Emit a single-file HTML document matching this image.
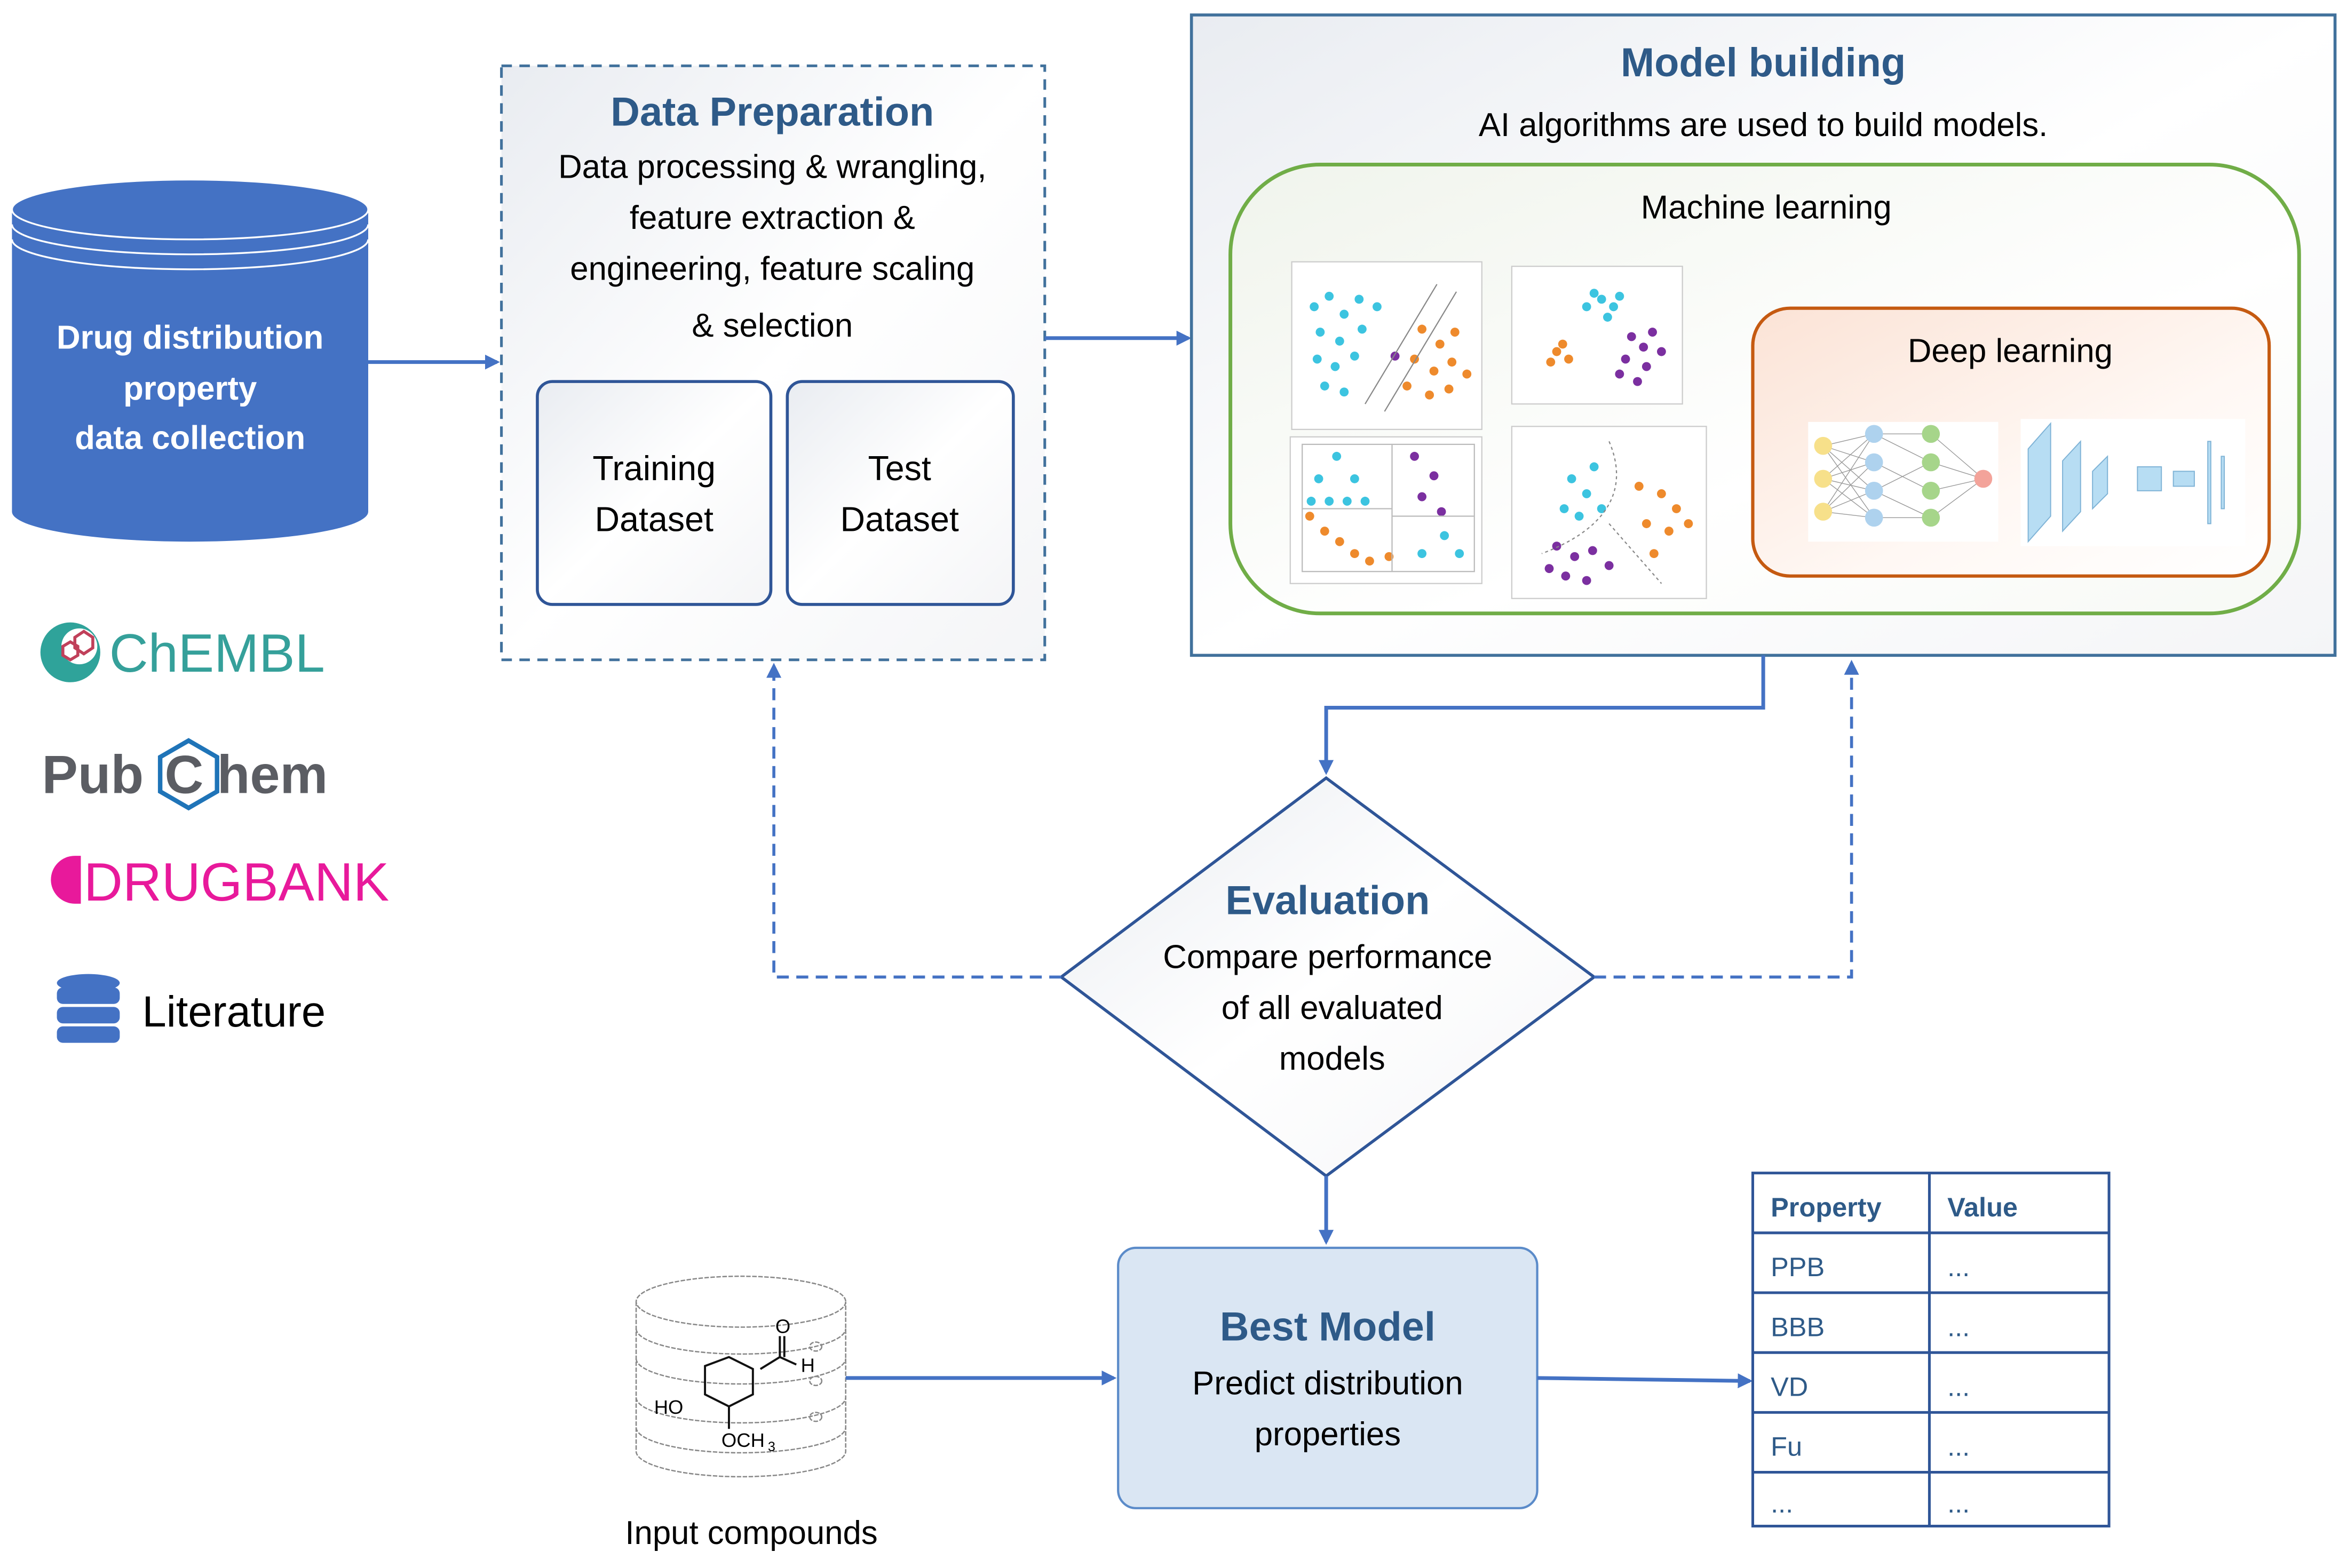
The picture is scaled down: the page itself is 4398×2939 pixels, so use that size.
<!DOCTYPE html>
<html><head><meta charset="utf-8"><style>
html,body{margin:0;padding:0;background:#fff;}
svg{display:block;}
text{font-family:"Liberation Sans",sans-serif;}
</style></head><body>
<svg width="4398" height="2939" viewBox="0 0 1568 1048" preserveAspectRatio="none" xmlns="http://www.w3.org/2000/svg">
<defs>
<marker id="ar" markerWidth="10" markerHeight="10" refX="8" refY="5" orient="auto" markerUnits="userSpaceOnUse"><path d="M0,0 L10,5 L0,10 z" fill="#4472C4"/></marker>
<linearGradient id="gb" x1="0" y1="0" x2="1" y2="1"><stop offset="0" stop-color="#e9ecf1"/><stop offset="0.5" stop-color="#ffffff"/><stop offset="1" stop-color="#f4f5f7"/></linearGradient>
<linearGradient id="go" x1="0" y1="0" x2="1" y2="1"><stop offset="0" stop-color="#fbe3d6"/><stop offset="0.6" stop-color="#fff8f4"/><stop offset="1" stop-color="#ffffff"/></linearGradient>
<linearGradient id="gg" x1="0" y1="0" x2="1" y2="1"><stop offset="0" stop-color="#f0f4ec"/><stop offset="0.6" stop-color="#ffffff"/><stop offset="1" stop-color="#f7f9f5"/></linearGradient>
</defs>

<!-- Source cylinder -->
<path d="M8,140 L8,342 A119,20 0 0 0 246,342 L246,140 Z" fill="#4472C4"/>
<ellipse cx="127" cy="140" rx="119" ry="20" fill="#4472C4" stroke="#ffffff" stroke-width="1.2"/>
<path d="M8,150 A119,20 0 0 0 246,150 M8,160 A119,20 0 0 0 246,160" fill="none" stroke="#ffffff" stroke-width="1.2"/>
<g fill="#fff" font-weight="bold" font-size="22" text-anchor="middle">
<text x="127" y="233">Drug distribution</text>
<text x="127" y="267">property</text>
<text x="127" y="300">data collection</text>
</g>
<line x1="246" y1="242" x2="332" y2="242" stroke="#4472C4" stroke-width="2.5" marker-end="url(#ar)"/>

<!-- logos -->
<circle cx="47" cy="436" r="20" fill="#2FA39A"/>
<circle cx="53" cy="432" r="12" fill="#fff"/>
<path d="M50,426 l6,-4 l6,4 l0,7 l-6,4 l-6,-4z M42,432 l5,-3 l5,3 l0,6 l-5,3 l-5,-3z" fill="none" stroke="#C0405A" stroke-width="2"/>
<text x="73" y="449" font-size="36" fill="#35A09A">ChEMBL</text>
<text x="28" y="530" font-size="36" font-weight="bold" fill="#5b5d63">Pub</text>
<polygon points="126,495 145,506 145,529 126,540 107,529 107,506" fill="none" stroke="#1f74b8" stroke-width="3"/>
<text x="110" y="530" font-size="36" font-weight="bold" fill="#5b5d63">C</text>
<text x="145" y="530" font-size="36" font-weight="bold" fill="#5b5d63">hem</text>
<path d="M50,572 A16,16 0 0 0 50,604 L54,604 L54,572 Z" fill="#E8199B"/>
<text x="56" y="602" font-size="36" fill="#E8199B">DRUGBANK</text>
<g fill="#4472C4">
<ellipse cx="59" cy="657" rx="21" ry="6"/>
<rect x="38" y="660" width="42" height="11" rx="4"/>
<rect x="38" y="673" width="42" height="11" rx="4"/>
<rect x="38" y="686" width="42" height="11" rx="4"/>
</g>
<text x="95" y="686" font-size="29" fill="#000">Literature</text>

<!-- Data preparation -->
<rect x="335" y="44" width="363" height="397" fill="url(#gb)" stroke="#41719C" stroke-width="1.8" stroke-dasharray="7,5"/>
<text x="516" y="84" font-size="27" font-weight="bold" fill="#2E5A88" text-anchor="middle">Data Preparation</text>
<g font-size="22" text-anchor="middle" fill="#000">
<text x="516" y="119">Data processing &amp; wrangling,</text>
<text x="516" y="153">feature extraction &amp;</text>
<text x="516" y="187">engineering, feature scaling</text>
<text x="516" y="225">&amp; selection</text>
</g>
<rect x="359" y="255" width="156" height="149" rx="10" fill="url(#gb)" stroke="#2F5597" stroke-width="2"/>
<rect x="526" y="255" width="151" height="149" rx="10" fill="url(#gb)" stroke="#2F5597" stroke-width="2"/>
<g font-size="23" text-anchor="middle" fill="#000">
<text x="437" y="321">Training</text><text x="437" y="355">Dataset</text>
<text x="601" y="321">Test</text><text x="601" y="355">Dataset</text>
</g>
<line x1="698" y1="226" x2="794" y2="226" stroke="#4472C4" stroke-width="2.5" marker-end="url(#ar)"/>

<!-- Model building -->
<rect x="796" y="10" width="764" height="428" fill="url(#gb)" stroke="#41719C" stroke-width="2"/>
<text x="1178" y="51" font-size="27" font-weight="bold" fill="#2E5A88" text-anchor="middle">Model building</text>
<text x="1178" y="91" font-size="22" text-anchor="middle">AI algorithms are used to build models.</text>
<rect x="822" y="110" width="714" height="300" rx="60" fill="url(#gg)" stroke="#70AD47" stroke-width="2.5"/>
<text x="1180" y="146" font-size="22" text-anchor="middle">Machine learning</text>

<!-- ML charts -->
<g stroke="#ccc" stroke-width="0.8" fill="#fff">
<rect x="863" y="175" width="127" height="112"/>
<rect x="1010" y="178" width="114" height="92"/>
<rect x="862" y="292" width="128" height="98"/>
<rect x="1010" y="285" width="130" height="115"/>
</g>
<g fill="#3cc4e0">
<circle cx="878" cy="205" r="3"/><circle cx="888" cy="198" r="3"/><circle cx="898" cy="210" r="3"/><circle cx="908" cy="200" r="3"/><circle cx="920" cy="205" r="3"/><circle cx="882" cy="222" r="3"/><circle cx="895" cy="228" r="3"/><circle cx="910" cy="220" r="3"/><circle cx="880" cy="240" r="3"/><circle cx="892" cy="245" r="3"/><circle cx="905" cy="238" r="3"/><circle cx="885" cy="258" r="3"/><circle cx="898" cy="262" r="3"/>
<circle cx="1070" cy="200" r="3"/><circle cx="1078" cy="205" r="3"/><circle cx="1065" cy="196" r="3"/><circle cx="1082" cy="198" r="3"/><circle cx="1074" cy="212" r="3"/><circle cx="1060" cy="205" r="3"/>
<circle cx="881" cy="320" r="3"/><circle cx="893" cy="305" r="3"/><circle cx="905" cy="320" r="3"/><circle cx="876" cy="335" r="3"/><circle cx="888" cy="335" r="3"/><circle cx="900" cy="335" r="3"/><circle cx="912" cy="335" r="3"/>
<circle cx="950" cy="370" r="3"/><circle cx="965" cy="358" r="3"/><circle cx="975" cy="370" r="3"/>
<circle cx="1050" cy="320" r="3"/><circle cx="1060" cy="330" r="3"/><circle cx="1045" cy="340" r="3"/><circle cx="1065" cy="312" r="3"/><circle cx="1055" cy="345" r="3"/><circle cx="1070" cy="340" r="3"/>
</g>
<g fill="#ee8a2c">
<circle cx="950" cy="220" r="3"/><circle cx="962" cy="230" r="3"/><circle cx="972" cy="222" r="3"/><circle cx="945" cy="240" r="3"/><circle cx="958" cy="248" r="3"/><circle cx="970" cy="242" r="3"/><circle cx="940" cy="258" r="3"/><circle cx="955" cy="264" r="3"/><circle cx="968" cy="260" r="3"/><circle cx="980" cy="250" r="3"/>
<circle cx="1040" cy="235" r="3"/><circle cx="1048" cy="240" r="3"/><circle cx="1044" cy="230" r="3"/><circle cx="1036" cy="242" r="3"/>
<circle cx="875" cy="345" r="3"/><circle cx="885" cy="355" r="3"/><circle cx="895" cy="362" r="3"/><circle cx="905" cy="370" r="3"/><circle cx="915" cy="375" r="3"/><circle cx="928" cy="372" r="3"/>
<circle cx="1095" cy="325" r="3"/><circle cx="1110" cy="330" r="3"/><circle cx="1120" cy="340" r="3"/><circle cx="1100" cy="350" r="3"/><circle cx="1115" cy="355" r="3"/><circle cx="1128" cy="350" r="3"/><circle cx="1105" cy="370" r="3"/>
</g>
<g fill="#7b2fa0">
<circle cx="1090" cy="225" r="3"/><circle cx="1098" cy="232" r="3"/><circle cx="1104" cy="222" r="3"/><circle cx="1086" cy="240" r="3"/><circle cx="1100" cy="245" r="3"/><circle cx="1110" cy="235" r="3"/><circle cx="1094" cy="255" r="3"/><circle cx="1082" cy="250" r="3"/>
<circle cx="932" cy="238" r="3"/><circle cx="945" cy="305" r="3"/><circle cx="958" cy="318" r="3"/><circle cx="950" cy="332" r="3"/><circle cx="963" cy="342" r="3"/>
<circle cx="1040" cy="365" r="3"/><circle cx="1052" cy="372" r="3"/><circle cx="1064" cy="368" r="3"/><circle cx="1046" cy="385" r="3"/><circle cx="1060" cy="388" r="3"/><circle cx="1075" cy="378" r="3"/><circle cx="1035" cy="380" r="3"/>
</g>
<path d="M912,270 L960,190 M925,275 L973,195" stroke="#888" stroke-width="0.8" fill="none"/>
<path d="M870,297 H985 V382 H870 Z M930,297 V382 M870,340 H930 M930,345 H985" stroke="#bbb" stroke-width="0.8" fill="none"/>
<path d="M1075,295 C1090,330 1070,355 1030,370 M1075,350 L1110,390" stroke="#888" stroke-width="0.8" fill="none" stroke-dasharray="2,2"/>

<!-- Deep learning -->
<rect x="1171" y="206" width="345" height="179" rx="25" fill="url(#go)" stroke="#C55A11" stroke-width="2.2"/>
<text x="1343" y="242" font-size="22" text-anchor="middle">Deep learning</text>
<rect x="1208" y="282" width="127" height="80" fill="#fff"/>
<g stroke="#999" stroke-width="0.5">
<path d="M1218,298 L1252,290 M1218,298 L1252,309 M1218,298 L1252,328 M1218,298 L1252,346 M1218,320 L1252,290 M1218,320 L1252,309 M1218,320 L1252,328 M1218,320 L1252,346 M1218,342 L1252,290 M1218,342 L1252,309 M1218,342 L1252,328 M1218,342 L1252,346 M1252,290 L1290,290 M1252,290 L1290,309 M1252,309 L1290,328 M1252,328 L1290,309 M1252,346 L1290,346 M1252,328 L1290,346 M1290,290 L1325,320 M1290,309 L1325,320 M1290,328 L1325,320 M1290,346 L1325,320"/>
</g>
<g fill="#f7e08a"><circle cx="1218" cy="298" r="6"/><circle cx="1218" cy="320" r="6"/><circle cx="1218" cy="342" r="6"/></g>
<g fill="#aed2ee"><circle cx="1252" cy="290" r="6"/><circle cx="1252" cy="309" r="6"/><circle cx="1252" cy="328" r="6"/><circle cx="1252" cy="346" r="6"/></g>
<g fill="#a6d58a"><circle cx="1290" cy="290" r="6"/><circle cx="1290" cy="309" r="6"/><circle cx="1290" cy="328" r="6"/><circle cx="1290" cy="346" r="6"/></g>
<circle cx="1325" cy="320" r="6" fill="#f3a39a"/>
<rect x="1350" y="280" width="150" height="85" fill="#fff"/>
<g fill="#b7ddf3" stroke="#7fb3d6" stroke-width="0.7">
<polygon points="1355,362 1355,300 1370,283 1370,345"/>
<polygon points="1378,355 1378,308 1390,295 1390,342"/>
<polygon points="1398,340 1398,315 1408,305 1408,330"/>
<rect x="1428" y="312" width="16" height="16"/>
<rect x="1452" y="315" width="14" height="10"/>
<rect x="1475" y="295" width="2" height="55"/>
<rect x="1484" y="305" width="2" height="35"/>
</g>

<!-- connectors to evaluation -->
<polyline points="1178,438 1178,473 886,473 886,516" fill="none" stroke="#4472C4" stroke-width="2.5" marker-end="url(#ar)"/>
<polygon points="886,520 1065,653 886,786 709,653" fill="url(#gb)" stroke="#2F5597" stroke-width="2"/>
<text x="887" y="611" font-size="27" font-weight="bold" fill="#2E5A88" text-anchor="middle">Evaluation</text>
<g font-size="22" text-anchor="middle"><text x="887" y="647">Compare performance</text><text x="890" y="681">of all evaluated</text><text x="890" y="715">models</text></g>
<polyline points="709,653 517,653 517,445" fill="none" stroke="#4472C4" stroke-width="2" stroke-dasharray="8,5" marker-end="url(#ar)"/>
<polyline points="1065,653 1237,653 1237,443" fill="none" stroke="#4472C4" stroke-width="2" stroke-dasharray="8,5" marker-end="url(#ar)"/>
<line x1="886" y1="786" x2="886" y2="830" stroke="#4472C4" stroke-width="2.5" marker-end="url(#ar)"/>

<!-- Best model -->
<rect x="747" y="834" width="280" height="174" rx="12" fill="#dae6f3" stroke="#5b8bc9" stroke-width="1.5"/>
<text x="887" y="896" font-size="27" font-weight="bold" fill="#2E5A88" text-anchor="middle">Best Model</text>
<g font-size="22" text-anchor="middle"><text x="887" y="932">Predict distribution</text><text x="887" y="966">properties</text></g>

<!-- input compounds -->
<g fill="none" stroke="#888" stroke-width="0.9" stroke-dasharray="3,1">
<ellipse cx="495" cy="870" rx="70" ry="17"/>
<path d="M425,870 V970 A70,17 0 0 0 565,970 V870"/>
<path d="M425,888 A70,17 0 0 0 565,888 M425,908 A70,17 0 0 0 565,908 M425,934 A70,17 0 0 0 565,934 M425,954 A70,17 0 0 0 565,954"/>
<ellipse cx="545" cy="900" rx="4" ry="3"/><ellipse cx="545" cy="923" rx="4" ry="3"/><ellipse cx="545" cy="947" rx="4" ry="3"/>
</g>
<path d="M471,913 L471,932 L487,940 L503,932 L503,915 L487,907 Z M508,915 L521,907 L532,912 M521,907 L521,893 M524,907 L524,893 M487,940 L487,955" fill="none" stroke="#111" stroke-width="1.4"/>
<text x="518" y="891" font-size="13">O</text>
<text x="535" y="917" font-size="13">H</text>
<text x="437" y="945" font-size="13">HO</text>
<text x="482" y="967" font-size="13">OCH</text><text x="513" y="970" font-size="9">3</text>
<text x="502" y="1032" font-size="22" text-anchor="middle">Input compounds</text>
<line x1="565" y1="921" x2="744" y2="921" stroke="#4472C4" stroke-width="2.5" marker-end="url(#ar)"/>
<line x1="1027" y1="921" x2="1169" y2="923" stroke="#4472C4" stroke-width="2.5" marker-end="url(#ar)"/>

<!-- table -->
<g stroke="#2F5597" stroke-width="1.8" fill="none">
<rect x="1171" y="784" width="238" height="236"/>
<line x1="1289" y1="784" x2="1289" y2="1020"/>
<line x1="1171" y1="824" x2="1409" y2="824"/>
<line x1="1171" y1="864" x2="1409" y2="864"/>
<line x1="1171" y1="904" x2="1409" y2="904"/>
<line x1="1171" y1="944" x2="1409" y2="944"/>
<line x1="1171" y1="984" x2="1409" y2="984"/>
</g>
<g font-size="18" fill="#2E5A88">
<text x="1183" y="813" font-weight="bold">Property</text><text x="1301" y="813" font-weight="bold">Value</text>
<text x="1183" y="853">PPB</text><text x="1301" y="853">...</text>
<text x="1183" y="893">BBB</text><text x="1301" y="893">...</text>
<text x="1183" y="933">VD</text><text x="1301" y="933">...</text>
<text x="1183" y="973">Fu</text><text x="1301" y="973">...</text>
<text x="1183" y="1011">...</text><text x="1301" y="1011">...</text>
</g>
</svg>
</body></html>
